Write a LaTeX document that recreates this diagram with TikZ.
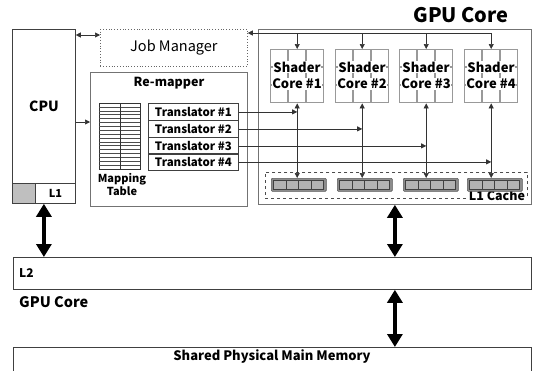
\documentclass[tikz,border=0pt]{standalone}
\usepackage{fontspec}
\setmainfont{Noto Sans CJK KR}
\usetikzlibrary{arrows.meta}
\begin{document}
\begin{tikzpicture}[x=1pt,y=-1pt,
  box/.style={draw=black!75, line width=0.8pt, anchor=north west, inner sep=0pt},
  gbox/.style={draw=black!55, line width=0.8pt, anchor=north west, inner sep=0pt},
  conn/.style={draw=black!80, line width=0.6pt, -{Triangle[width=5pt,length=5pt]}},
  bconn/.style={draw=black!80, line width=0.6pt, {Triangle[width=5pt,length=5pt]}-{Triangle[width=5pt,length=5pt]}},
  big/.style={line width=3.2pt, {Triangle[width=15pt,length=13pt]}-{Triangle[width=15pt,length=13pt]}},
  cell/.style={draw=black!40, line width=0.5pt, fill=white},
  ccell/.style={draw=black!75, line width=0.5pt, fill=black!30},
  coretxt/.style={font=\bfseries\fontsize{13}{14}\selectfont, inner sep=0.5pt, fill=white},
]
\useasboundingbox (0,0) rectangle (533,370);

% title
\node[font=\bfseries\fontsize{20}{22}\selectfont, inner sep=0pt] (title) at (461,15) {GPU Core};

% CPU
\node[box, minimum width=63pt, minimum height=174pt] (cpu) at (12,29) {};
\node[font=\bfseries\fontsize{14}{15}\selectfont, inner sep=0pt] (cputxt) at (44,106) {CPU};
\node[box, fill=black!25, minimum width=23pt, minimum height=20pt, anchor=south west] (cpug) at (cpu.south west) {};
\node[box, minimum width=40pt, minimum height=20pt, anchor=south east, font=\bfseries\fontsize{11}{12}\selectfont] (l1) at (cpu.south east) {L1};

% Job manager
\node[draw=black!60, dotted, line width=0.8pt, anchor=north west, minimum width=147pt, minimum height=37pt,
  font=\fontsize{14.5}{16}\selectfont, inner sep=0pt] (jm) at (100,29) {Job Manager};

% Re-mapper
\node[gbox, minimum width=157pt, minimum height=134pt] (remap) at (90,72) {};
\node[font=\bfseries\fontsize{12.5}{13}\selectfont, inner sep=0pt] (rmtitle) at (169,83) {Re-mapper};

% Mapping table
\node[draw=black!80, line width=0.6pt, anchor=north west, minimum width=41pt, minimum height=66pt, inner sep=0pt] (mt) at (99,103) {};
\foreach \i in {1,...,16} {
  \draw[black!70, line width=0.4pt] (99,103+\i*3.88) -- (140,103+\i*3.88);
}
\draw[black!80, line width=0.6pt] (mt.north) -- (mt.south);
\node[font=\bfseries\fontsize{11}{13}\selectfont, align=center, inner sep=0pt, anchor=north] (mttxt) at (122,173) {Mapping\\Table};

% Translators
\foreach \k/\y in {1/103,2/120,3/137,4/153} {
  \node[box, minimum width=90pt, minimum height=17pt, font=\bfseries\fontsize{11.5}{12}\selectfont] (t\k) at (148,\y) {Translator \#\k};
}

% GPU core
\node[gbox, minimum width=273pt, minimum height=175pt] (gpu) at (258,29) {};
\node[draw=black!70, dashed, line width=0.6pt, anchor=north west, minimum width=262pt, minimum height=26pt, inner sep=0pt] (l1c) at (265,172) {};
\node[font=\bfseries\fontsize{12.5}{13}\selectfont, inner sep=0pt, fill=white, inner xsep=1pt] (l1ctxt) at (497,196) {L1 Cache};

% Shader cores
\foreach \k/\x in {1/270,2/335,3/399,4/464} {
  \node[anchor=north west, minimum width=54pt, minimum height=54pt, inner sep=0pt] (c\k) at (\x,49) {};
  \foreach \r in {0,1,2} {
    \foreach \c in {0,1,2} {
      \draw[cell] (\x+\c*18+0.5,49+\r*18+0.5) rectangle ++(17,17);
    }
  }
  \node[coretxt] (c\k a) at (\x+27,67) {Shader};
  \node[coretxt] (c\k b) at (\x+27,84) {Core \#\k};
}

% Cache blocks
\foreach \k/\x in {1/271,2/337,3/403,4/467} {
  \node[draw=black!65, fill=black!45, line width=0.6pt, rounded corners=1pt, anchor=north west, minimum width=55pt, minimum height=13pt, inner sep=0pt] (k\k) at (\x,178) {};
  \foreach \c in {0,1,2,3} {
    \draw[ccell] (\x+2.5+\c*12.5,180) rectangle ++(12.5,9);
  }
}

% Bus from shader cores to job manager
\coordinate (bus) at (0,33);
\draw[conn] (c4.north |- bus) -- (jm.east |- bus);
\foreach \k in {1,...,4} {
  \draw[conn] (c\k.north |- bus) -- (c\k.north);
}

% CPU <-> Job Manager, CPU -> Re-mapper
\coordinate (cj) at (0,35);
\draw[bconn] (cpu.east |- cj) -- (jm.west |- cj);
\coordinate (cr) at (0,122);
\draw[conn] (cpu.east |- cr) -- (remap.west |- cr);

% Shader core <-> L1 cache
\foreach \k in {1,...,4} {
  \draw[bconn] (c\k.south) -- (c\k.south |- k\k.north);
}

% Translators -> shader cores
\foreach \k in {1,...,4} {
  \draw[conn] (t\k.east) -- (t\k.east -| c\k.south);
}

% L2 and memory
\node[box, minimum width=518pt, minimum height=32pt] (l2) at (13,257) {};
\node[font=\bfseries\fontsize{12}{13}\selectfont, inner sep=0pt, anchor=west] (l2txt) at (19,273) {L2};
\node[font=\bfseries\fontsize{14.5}{16}\selectfont, inner sep=0pt, anchor=west] (gpulbl) at (19,302) {GPU Core};
\node[box, minimum width=518pt, minimum height=30pt] (mem) at (13,347) {};
\node[font=\bfseries\fontsize{13}{14}\selectfont, inner sep=0pt] (memtxt) at (272,357) {Shared Physical Main Memory};

\draw[big] (cpu.south) -- (cpu.south |- l2.north);
\draw[big] (gpu.south) -- (gpu.south |- l2.north);
\draw[big] (l2.south -| gpu.south) -- (mem.north -| gpu.south);
\end{tikzpicture}
\end{document}
